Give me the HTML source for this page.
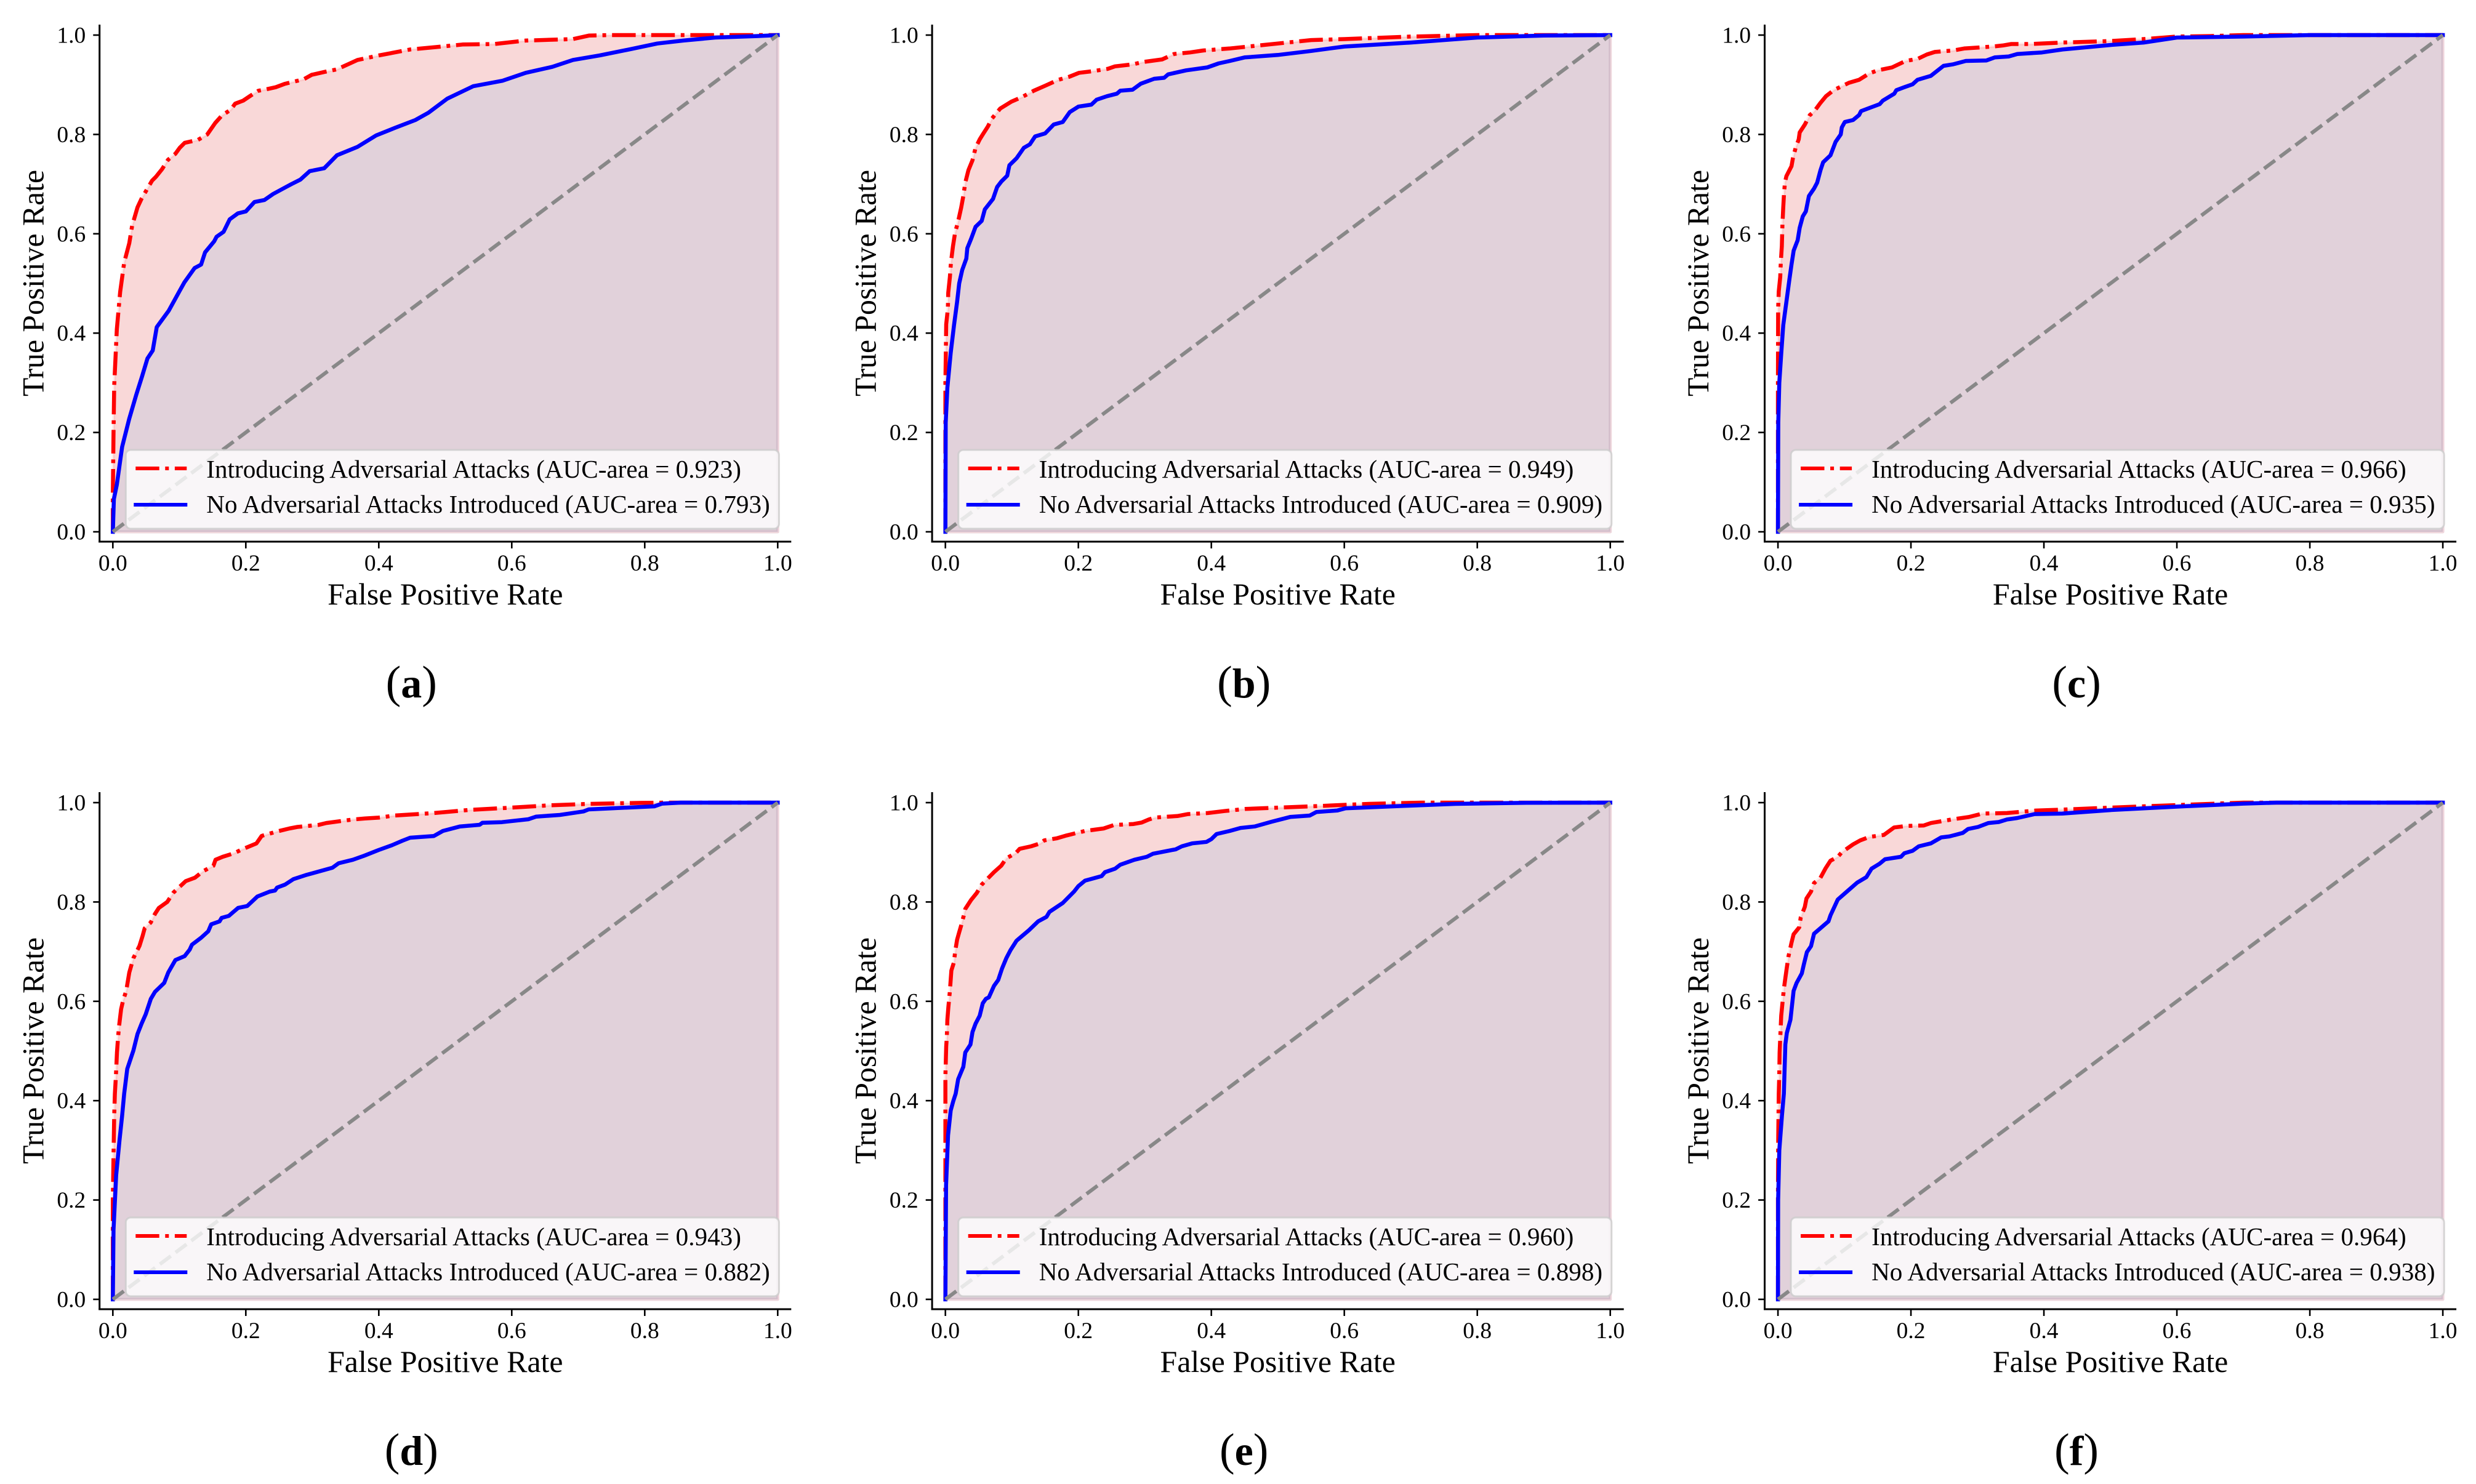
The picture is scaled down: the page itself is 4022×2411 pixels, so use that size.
<!DOCTYPE html>
<html lang="en">
<head>
<meta charset="utf-8">
<title>ROC curves with and without adversarial attacks</title>
<style>
html,body{margin:0;padding:0;background:#fff;}
svg{display:block;}
text{font-family:"Liberation Serif","Times New Roman",serif;fill:#000;}
</style>
</head>
<body>
<svg id="figure" xmlns="http://www.w3.org/2000/svg" width="4022" height="2411" viewBox="0 0 4022 2411"></svg>
<script>
const panelLetters = ['a','b','c','d','e','f'];
const attackAuc = ['0.923','0.949','0.966','0.943','0.960','0.964'];
const cleanAuc = ['0.793','0.909','0.935','0.882','0.898','0.938'];
const tickValues = [0,0.2,0.4,0.6,0.8,1];
const tickLabels = ['0.0','0.2','0.4','0.6','0.8','1.0'];
const xAxisTitle = 'False Positive Rate';
const yAxisTitle = 'True Positive Rate';
const attackName = 'Introducing Adversarial Attacks';
const cleanName = 'No Adversarial Attacks Introduced';

const aAttackFpr = [0,0,0.001,0.002,0.006,0.011,0.017,0.0247,0.029,0.037,0.043,0.049,0.059,0.065,0.074,0.083,0.094,0.1006,0.108,0.128,0.142,0.154,0.164,0.1775,0.184,0.196,0.207,0.219,0.231,0.245,0.259,0.287,0.299,0.319,0.337,0.368,0.4,0.447,0.487,0.526,0.574,0.621,0.692,0.716,0.748,1];
const aAttackTpr = [0,0.076,0.199,0.294,0.408,0.483,0.542,0.581,0.616,0.653,0.67,0.684,0.707,0.715,0.73,0.749,0.761,0.773,0.783,0.789,0.8,0.823,0.838,0.85,0.862,0.868,0.878,0.888,0.891,0.895,0.902,0.911,0.92,0.926,0.931,0.95,0.959,0.971,0.976,0.981,0.982,0.989,0.992,0.999,1,1];
const aCleanFpr = [0,0.0016,0.006,0.014,0.0245,0.035,0.044,0.052,0.06,0.066,0.084,0.0996,0.1075,0.123,0.1328,0.1387,0.1525,0.156,0.1666,0.1757,0.188,0.2,0.213,0.228,0.241,0.259,0.2686,0.282,0.296,0.318,0.337,0.368,0.396,0.424,0.455,0.475,0.503,0.542,0.586,0.621,0.661,0.692,0.732,0.78,0.819,0.858,0.906,0.969,1];
const aCleanTpr = [0,0.066,0.095,0.171,0.227,0.275,0.313,0.349,0.365,0.412,0.445,0.483,0.502,0.531,0.538,0.5626,0.585,0.594,0.604,0.629,0.641,0.645,0.664,0.668,0.68,0.693,0.7,0.709,0.726,0.732,0.758,0.775,0.798,0.813,0.829,0.844,0.872,0.897,0.908,0.924,0.936,0.95,0.959,0.972,0.983,0.989,0.995,0.998,1];

const bAttackFpr = [0,0,0.0012,0.0037,0.0043,0.0068,0.0083,0.0114,0.0145,0.0192,0.0238,0.0269,0.0299,0.0346,0.0407,0.0454,0.0516,0.0562,0.0639,0.07,0.0824,0.0993,0.1148,0.133,0.15,0.17,0.186,0.201,0.2195,0.244,0.255,0.2815,0.298,0.326,0.344,0.368,0.388,0.427,0.5,0.55,0.6,0.7,0.8,1];
const bAttackTpr = [0,0.3,0.418,0.449,0.481,0.513,0.542,0.575,0.602,0.625,0.653,0.676,0.703,0.728,0.748,0.773,0.79,0.8,0.816,0.832,0.852,0.866,0.875,0.888,0.898,0.91,0.916,0.924,0.927,0.932,0.937,0.941,0.946,0.951,0.962,0.965,0.969,0.973,0.983,0.99,0.992,0.997,1,1];
const bCleanFpr = [0,0.0005,0.003,0.008,0.013,0.0176,0.0207,0.0253,0.0315,0.033,0.039,0.0454,0.0546,0.0593,0.0716,0.0778,0.084,0.093,0.0963,0.107,0.118,0.127,0.135,0.15,0.163,0.1765,0.187,0.2,0.2195,0.2275,0.243,0.258,0.263,0.2815,0.2937,0.314,0.329,0.335,0.362,0.394,0.411,0.428,0.45,0.5,0.55,0.6,0.7,0.8,0.9,1];
const bCleanTpr = [0,0.22,0.29,0.36,0.416,0.463,0.5,0.527,0.55,0.571,0.591,0.614,0.626,0.649,0.67,0.694,0.705,0.717,0.738,0.752,0.773,0.78,0.796,0.802,0.82,0.825,0.845,0.856,0.86,0.87,0.877,0.882,0.888,0.89,0.902,0.912,0.914,0.921,0.929,0.935,0.943,0.948,0.955,0.96,0.968,0.977,0.985,0.995,0.999,1];

const cAttackFpr = [0,0,0.0003,0.0012,0.0034,0.0043,0.0058,0.0068,0.008,0.009,0.0105,0.0127,0.0204,0.0225,0.0266,0.0312,0.0327,0.0405,0.048,0.0543,0.0636,0.0722,0.0836,0.0975,0.1068,0.122,0.1377,0.15,0.1716,0.192,0.21,0.224,0.236,0.264,0.28,0.323,0.338,0.351,0.381,0.428,0.5,0.55,0.6,0.65,0.7,1];
const cAttackTpr = [0,0.3,0.449,0.484,0.513,0.542,0.575,0.62,0.653,0.678,0.703,0.716,0.736,0.752,0.773,0.79,0.804,0.82,0.839,0.846,0.863,0.877,0.889,0.898,0.904,0.91,0.923,0.929,0.935,0.948,0.952,0.961,0.966,0.969,0.973,0.977,0.979,0.982,0.982,0.985,0.988,0.992,0.997,0.998,1,1];
const cCleanFpr = [0,0.0005,0.002,0.005,0.008,0.0127,0.0173,0.0204,0.0236,0.0296,0.0327,0.0373,0.0419,0.0466,0.0543,0.059,0.064,0.068,0.079,0.0867,0.0944,0.096,0.1006,0.113,0.122,0.125,0.141,0.153,0.1577,0.175,0.178,0.19,0.2025,0.21,0.23,0.249,0.263,0.2826,0.3136,0.326,0.347,0.36,0.397,0.428,0.5,0.55,0.6,0.7,0.8,1];
const cCleanTpr = [0,0.22,0.3,0.36,0.416,0.463,0.509,0.538,0.566,0.587,0.612,0.635,0.645,0.676,0.691,0.703,0.728,0.744,0.758,0.785,0.8,0.814,0.825,0.829,0.839,0.847,0.855,0.861,0.868,0.882,0.889,0.895,0.901,0.91,0.918,0.938,0.941,0.948,0.949,0.955,0.957,0.962,0.965,0.971,0.98,0.985,0.995,0.997,1,1];

const dAttackFpr = [0,0,0.001,0.002,0.0031,0.0046,0.0062,0.0078,0.0093,0.0124,0.0155,0.0201,0.0247,0.0309,0.0402,0.0448,0.0479,0.0571,0.0633,0.0692,0.0818,0.0911,0.1096,0.1235,0.1358,0.1513,0.1544,0.1652,0.182,0.1944,0.216,0.2238,0.247,0.2655,0.2776,0.309,0.321,0.361,0.379,0.3997,0.4234,0.4827,0.538,0.5972,0.6564,0.7157,0.795,0.83,1];
const dAttackTpr = [0,0.2,0.29,0.37,0.414,0.45,0.497,0.526,0.549,0.584,0.602,0.621,0.658,0.687,0.712,0.732,0.747,0.759,0.776,0.788,0.8,0.819,0.842,0.849,0.862,0.873,0.885,0.891,0.898,0.906,0.918,0.933,0.942,0.948,0.951,0.955,0.959,0.966,0.968,0.9698,0.974,0.9789,0.9855,0.9897,0.9946,0.9975,0.9995,1,1];
const dCleanFpr = [0,0.001,0.005,0.01,0.014,0.017,0.0217,0.0309,0.037,0.0432,0.0494,0.0571,0.0633,0.0772,0.0833,0.0941,0.108,0.1156,0.119,0.1328,0.1435,0.148,0.1605,0.1636,0.1744,0.1883,0.2022,0.2174,0.236,0.244,0.247,0.259,0.2716,0.29,0.3303,0.3395,0.361,0.378,0.3997,0.4195,0.4353,0.4471,0.4827,0.4964,0.5222,0.5517,0.5558,0.5852,0.6249,0.6368,0.6723,0.7079,0.7157,0.8144,0.8262,0.854,1];
const dCleanTpr = [0,0.14,0.25,0.32,0.37,0.414,0.464,0.501,0.534,0.555,0.574,0.605,0.619,0.637,0.658,0.683,0.691,0.704,0.714,0.728,0.741,0.755,0.761,0.768,0.772,0.788,0.792,0.811,0.821,0.823,0.829,0.835,0.846,0.854,0.869,0.878,0.885,0.893,0.9046,0.9141,0.9232,0.9294,0.9327,0.943,0.9521,0.9554,0.9595,0.9607,0.9665,0.9719,0.9752,0.9823,0.9864,0.9926,0.998,1,1];

const eAttackFpr = [0,0,0,0.0012,0.0021,0.003,0.0044,0.0068,0.009,0.013,0.0145,0.0176,0.0207,0.0238,0.0275,0.0299,0.0386,0.047,0.0546,0.0731,0.084,0.0917,0.1056,0.1117,0.1287,0.1426,0.1488,0.167,0.1824,0.21,0.238,0.2537,0.283,0.2954,0.306,0.3154,0.349,0.365,0.395,0.4195,0.451,0.5659,0.637,0.716,1];
const eAttackTpr = [0,0.28,0.45,0.509,0.528,0.563,0.588,0.621,0.662,0.679,0.699,0.724,0.739,0.753,0.772,0.786,0.804,0.818,0.835,0.86,0.873,0.888,0.898,0.907,0.912,0.918,0.924,0.928,0.934,0.943,0.948,0.955,0.957,0.96,0.966,0.97,0.973,0.977,0.979,0.983,0.9872,0.9934,0.9975,1,1];
const eCleanFpr = [0,0.001,0.004,0.008,0.012,0.0155,0.0192,0.0269,0.0299,0.0377,0.0407,0.0454,0.0516,0.0562,0.0608,0.0654,0.0731,0.0794,0.0852,0.0917,0.0979,0.107,0.1256,0.1395,0.152,0.1565,0.1766,0.1935,0.2,0.21,0.235,0.24,0.2553,0.263,0.2843,0.303,0.312,0.3463,0.3556,0.371,0.3926,0.4,0.4079,0.4277,0.4435,0.4652,0.4907,0.5185,0.548,0.558,0.5897,0.6014,0.6963,0.7672,0.874,1];
const eCleanTpr = [0,0.23,0.33,0.38,0.4,0.414,0.443,0.468,0.497,0.513,0.538,0.555,0.571,0.596,0.605,0.608,0.631,0.643,0.666,0.687,0.703,0.722,0.743,0.761,0.77,0.78,0.798,0.821,0.832,0.843,0.852,0.86,0.867,0.875,0.885,0.891,0.897,0.906,0.912,0.918,0.921,0.9265,0.9368,0.943,0.949,0.9521,0.9616,0.9711,0.974,0.981,0.9843,0.9885,0.9938,0.9975,0.9996,1];

const fAttackFpr = [0,0,0.0005,0.0012,0.0019,0.0025,0.0034,0.0049,0.007,0.0089,0.0127,0.0157,0.0204,0.0235,0.032,0.0343,0.0404,0.0429,0.0497,0.0543,0.0636,0.0713,0.079,0.09,0.096,0.113,0.1238,0.1377,0.1593,0.1748,0.193,0.2194,0.2303,0.2611,0.287,0.3074,0.3444,0.3877,0.4278,0.5,0.6,0.7,1];
const fAttackTpr = [0,0.2,0.33,0.414,0.45,0.497,0.526,0.571,0.6,0.625,0.662,0.69,0.718,0.735,0.749,0.769,0.79,0.807,0.821,0.838,0.848,0.867,0.883,0.891,0.9,0.916,0.924,0.931,0.935,0.95,0.953,0.954,0.959,0.966,0.971,0.978,0.979,0.984,0.986,0.99,0.995,1,1];
const fCleanFpr = [0,0.0003,0.002,0.006,0.0089,0.0111,0.0133,0.0188,0.0235,0.0281,0.0358,0.0389,0.0435,0.0497,0.0543,0.0759,0.079,0.09,0.1037,0.1192,0.133,0.1407,0.1528,0.161,0.185,0.19,0.2025,0.2118,0.23,0.2456,0.258,0.278,0.286,0.301,0.3167,0.3321,0.3444,0.36,0.386,0.4278,0.5,0.6,0.7,0.75,1];
const fCleanTpr = [0,0.2,0.3,0.37,0.414,0.513,0.536,0.563,0.621,0.637,0.656,0.674,0.699,0.711,0.736,0.761,0.773,0.805,0.821,0.839,0.85,0.867,0.877,0.886,0.891,0.898,0.903,0.912,0.918,0.93,0.932,0.939,0.947,0.951,0.959,0.961,0.966,0.969,0.977,0.978,0.985,0.992,0.998,1,1];

const attackFprSets = [aAttackFpr,bAttackFpr,cAttackFpr,dAttackFpr,eAttackFpr,fAttackFpr];
const attackTprSets = [aAttackTpr,bAttackTpr,cAttackTpr,dAttackTpr,eAttackTpr,fAttackTpr];
const cleanFprSets = [aCleanFpr,bCleanFpr,cCleanFpr,dCleanFpr,eCleanFpr,fCleanFpr];
const cleanTprSets = [aCleanTpr,bCleanTpr,cCleanTpr,dCleanTpr,eCleanTpr,fCleanTpr];

const NS = 'http://www.w3.org/2000/svg';
const figure = document.getElementById('figure');

function make(parent, tag, attrs, content) {
  const el = document.createElementNS(NS, tag);
  for (const k in attrs) el.setAttribute(k, attrs[k]);
  if (content !== undefined) el.textContent = content;
  parent.appendChild(el);
  return el;
}

function curvePoints(fpr, tpr, sx, sy) {
  return fpr.map((v, i) => sx(v).toFixed(1) + ',' + sy(tpr[i]).toFixed(1)).join(' ');
}

function drawPanel(index) {
  const col = index % 3;
  const row = Math.floor(index / 3);
  const originX = 183.3 + col * 1352.4;
  const originY = 864 + row * 1247;
  const sx = v => originX + v * 1080;
  const sy = v => originY - v * 807;
  const letter = panelLetters[index];

  const g = make(figure, 'g', {});
  
  

  const aPts = curvePoints(attackFprSets[index], attackTprSets[index], sx, sy);
  const cPts = curvePoints(cleanFprSets[index], cleanTprSets[index], sx, sy);
  const closing = ' ' + sx(1) + ',' + sy(0) + ' ' + sx(0) + ',' + sy(0);

  const attackFill = make(g, 'polygon', {points: aPts + closing, fill: '#f9d8d8', stroke: 'rgba(255,0,0,0.07)', 'stroke-width': 5, 'stroke-linejoin': 'round'});
  
  

  const cleanFill = make(g, 'polygon', {points: cPts + closing, fill: '#e1d1da', stroke: 'rgba(120,60,110,0.13)', 'stroke-width': 5, 'stroke-linejoin': 'round'});
  
  

  const attackLine = make(g, 'polyline', {points: aPts, fill: 'none', stroke: '#ff0000', 'stroke-width': 6.5, 'stroke-dasharray': '38.4 9.6 6 9.6', 'stroke-linejoin': 'round'});
  
  

  const cleanLine = make(g, 'polyline', {points: cPts, fill: 'none', stroke: '#0000ff', 'stroke-width': 6.5, 'stroke-linejoin': 'round', 'stroke-linecap': 'square'});
  
  

  const diagonal = make(g, 'line', {x1: sx(0), y1: sy(0), x2: sx(1), y2: sy(1), stroke: '#888888', 'stroke-width': 6, 'stroke-dasharray': '22.2 9.6'});
  
  

  const ySpine = make(g, 'line', {x1: originX - 21.6, y1: originY - 824, x2: originX - 21.6, y2: originY + 17.5, stroke: '#000', 'stroke-width': 3});
  
  

  const xSpine = make(g, 'line', {x1: originX - 23, y1: originY + 16, x2: originX + 1102, y2: originY + 16, stroke: '#000', 'stroke-width': 3});
  
  

  tickValues.forEach((v, i) => {
    const xt = make(g, 'line', {x1: sx(v), y1: originY + 16, x2: sx(v), y2: originY + 27, stroke: '#000', 'stroke-width': 2.6});
    
    
    const xl = make(g, 'text', {x: sx(v), y: originY + 63, 'font-size': 37.5, 'text-anchor': 'middle'}, tickLabels[i]);
    
    
    const yt = make(g, 'line', {x1: originX - 32, y1: sy(v), x2: originX - 21.6, y2: sy(v), stroke: '#000', 'stroke-width': 2.6});
    
    
    const yl = make(g, 'text', {x: originX - 44, y: sy(v) + 12.5, 'font-size': 37.5, 'text-anchor': 'end'}, tickLabels[i]);
    
    
  });

  const xTitle = make(g, 'text', {x: originX + 540, y: originY + 118, 'font-size': 49.9, 'text-anchor': 'middle'}, xAxisTitle);
  
  

  const yTx = originX - 113;
  const yTy = originY - 404;
  const yTitle = make(g, 'text', {x: yTx, y: yTy, 'font-size': 49.7, 'text-anchor': 'middle', transform: 'rotate(-90 ' + yTx + ' ' + yTy + ')'}, yAxisTitle);
  
  

  const legend = make(g, 'g', {});
  
  

  const frame = make(legend, 'rect', {x: originX + 21, y: originY - 133, width: 1061, height: 128, rx: 8, ry: 8, fill: 'rgba(255,255,255,0.8)', stroke: 'rgba(204,204,204,0.8)', 'stroke-width': 3});
  
  

  const h1 = make(legend, 'line', {x1: originX + 37, y1: originY - 103, x2: originX + 120, y2: originY - 103, stroke: '#ff0000', 'stroke-width': 6, 'stroke-dasharray': '38.4 9.6 6 9.6'});
  
  

  const t1 = make(legend, 'text', {x: originX + 152, y: originY - 88, 'font-size': 41.15}, attackName + ' (AUC-area = ' + attackAuc[index] + ')');
  
  

  const h2 = make(legend, 'line', {x1: originX + 34, y1: originY - 44, x2: originX + 121, y2: originY - 44, stroke: '#0000ff', 'stroke-width': 6});
  
  

  const t2 = make(legend, 'text', {x: originX + 152, y: originY - 31, 'font-size': 41.15}, cleanName + ' (AUC-area = ' + cleanAuc[index] + ')');
  
  

  const caption = make(g, 'text', {x: originX + 485, y: originY + 269, 'font-size': 74, 'text-anchor': 'middle'});
  
  
  make(caption, 'tspan', {}, '(');
  make(caption, 'tspan', {'font-weight': 'bold', 'font-size': 68}, letter);
  make(caption, 'tspan', {}, ')');
}

panelLetters.forEach((_, i) => drawPanel(i));
</script>
</body>
</html>
